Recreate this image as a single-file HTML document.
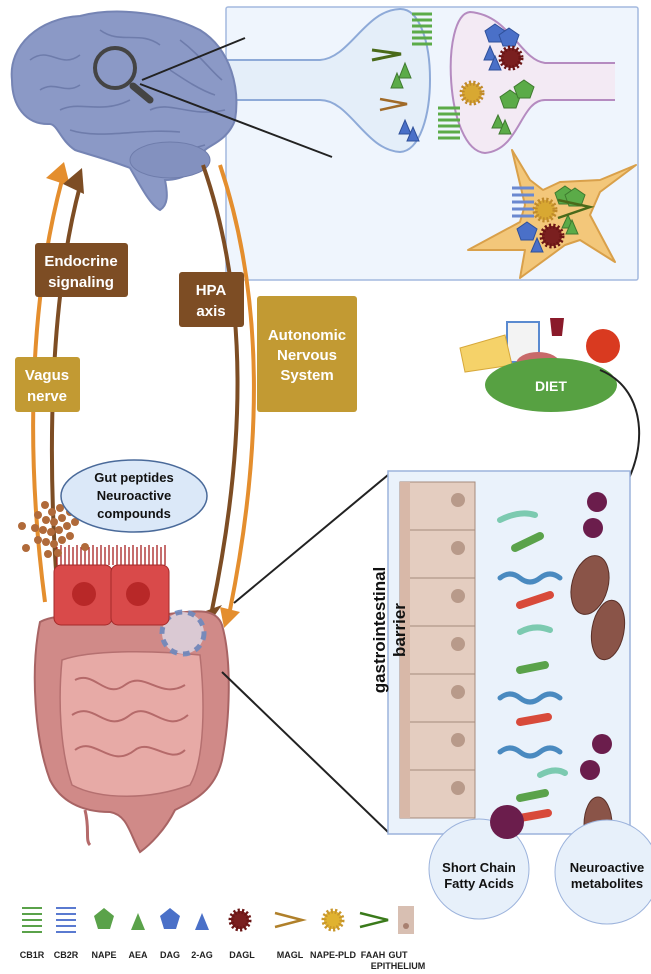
<!DOCTYPE html>
<html><head><meta charset="utf-8"><style>
html,body{margin:0;padding:0;background:#fff;}
svg{display:block;font-family:"Liberation Sans",sans-serif;}
.lb{font-weight:bold;fill:#fff;font-size:15px;text-anchor:middle;}
.lg{font-weight:bold;fill:#222;font-size:9px;text-anchor:middle;}
</style></head><body>
<svg width="651" height="974" viewBox="0 0 651 974" xmlns="http://www.w3.org/2000/svg">
<!-- top right panel -->
<rect x="226" y="7" width="412" height="273" rx="2" fill="#eff5fd" stroke="#a4b9df" stroke-width="1.5"/>
<path d="M226,60 L320,60 C350,58 365,10 400,9 C440,8 440,150 400,152 C365,150 350,100 320,100 L226,100" fill="#e4eef9" stroke="#8eaad8" stroke-width="2"/>
<path d="M615,63 L545,63 C520,60 510,15 470,12 C440,15 445,150 485,153 C520,150 520,100 545,100 L615,100" fill="#f3eaf4" stroke="#b58bc0" stroke-width="2"/>
<!-- presynaptic -->
<path d="M372,50 L401,54 L372,60" fill="none" stroke="#4a6a1a" stroke-width="3"/>
<path d="M380,99 L407,104 L380,110" fill="none" stroke="#a06a28" stroke-width="2.5"/>
<g fill="#5bab48" stroke="#3f7a2f"><polygon points="405,63 411,78 399,78"/><polygon points="397,73 403,88 391,88"/><polygon points="498,115 504,128 492,128"/><polygon points="505,120 511,134 499,134"/></g>
<g fill="#4a70c8" stroke="#2f509a"><polygon points="405,120 411,134 399,134"/><polygon points="413,127 419,141 407,141"/><polygon points="490,46 496,60 484,60"/><polygon points="495,56 501,70 489,70"/></g>
<g stroke="#5bab48" stroke-width="3" fill="none"><path d="M412,14 h20 M412,20 h20 M412,26 h20 M412,32 h20 M412,38 h20 M412,44 h20"/><path d="M438,108 h22 M438,114 h22 M438,120 h22 M438,126 h22 M438,132 h22 M438,138 h22"/></g>
<g fill="#4a70c8" stroke="#2f509a"><polygon points="495,24 505,31 501,42 489,42 485,31"/><polygon points="509,28 519,35 515,46 503,46 499,35"/></g>
<g fill="#5bab48" stroke="#3f7a2f"><polygon points="510,90 520,97 516,108 504,108 500,97"/><polygon points="524,80 534,87 530,98 518,98 514,87"/></g>
<circle cx="511" cy="58" r="10" fill="#7a1f1f" stroke="#6a1515" stroke-width="5" stroke-dasharray="2 2"/>
<circle cx="472" cy="93" r="10" fill="#d8a832" stroke="#c08a2b" stroke-width="5" stroke-dasharray="2 2"/>
<!-- astrocyte -->
<path d="M468,250 L520,222 L525,205 L512,150 L530,180 L543,190 L560,182 L600,180 L636,165 L600,192 L590,215 L615,262 L580,240 L565,245 L520,278 L525,250Z" fill="#f3c77a" stroke="#d9a04a" stroke-width="2" stroke-linejoin="round"/>
<g stroke="#6a88d0" stroke-width="3" fill="none"><path d="M512,188 h22 M512,195 h22 M512,202 h22 M512,209 h22 M512,216 h22"/></g>
<g fill="#5bab48" stroke="#3f7a2f"><polygon points="565,186 575,193 571,204 559,204 555,193"/><polygon points="575,188 585,195 581,206 569,206 565,195"/><polygon points="568,215 574,228 562,228"/><polygon points="572,220 578,234 566,234"/></g>
<circle cx="545" cy="210" r="10" fill="#d8a832" stroke="#c08a2b" stroke-width="5" stroke-dasharray="2 2"/>
<circle cx="552" cy="236" r="10" fill="#7a1f1f" stroke="#6a1515" stroke-width="5" stroke-dasharray="2 2"/>
<path d="M558,200 L590,207 L558,218" fill="none" stroke="#4a6a1a" stroke-width="2.5"/>
<polygon points="527,222 537,229 533,240 521,240 517,229" fill="#4a70c8" stroke="#2f509a"/>
<polygon points="537,238 543,252 531,252" fill="#4a70c8" stroke="#2f509a"/>
<!-- brain -->
<path d="M12,80 C8,45 40,18 80,16 C110,8 160,10 200,30 C232,50 240,90 235,120 C228,140 210,145 205,150 C200,170 185,180 165,180 C168,195 168,205 160,210 C150,205 140,185 130,168 C110,160 90,155 75,150 C60,140 58,125 50,124 C25,125 12,105 12,80Z" fill="#8b99c6" stroke="#7584b4" stroke-width="2"/>
<path d="M30,60 C50,45 60,70 80,55 M100,30 C120,45 140,30 160,45 M180,40 C200,55 210,70 222,80 M60,110 C80,100 100,115 130,100 M150,110 C170,100 190,118 225,110 M70,130 C100,140 140,128 180,132 M140,150 C160,160 185,150 205,145 M40,90 C55,80 65,95 80,85 M170,70 C185,80 200,90 215,95" fill="none" stroke="#6e7cab" stroke-width="1.6"/>
<ellipse cx="170" cy="160" rx="40" ry="18" fill="#8391bf" stroke="#6e7cab"/>
<circle cx="115" cy="68" r="20" fill="none" stroke="#444" stroke-width="4"/>
<line x1="133" y1="86" x2="150" y2="100" stroke="#444" stroke-width="7" stroke-linecap="round"/>
<line x1="142" y1="80" x2="245" y2="38" stroke="#222" stroke-width="2"/>
<line x1="140" y1="84" x2="332" y2="157" stroke="#222" stroke-width="2"/>
<!-- arcs -->
<path d="M45,602 C25,450 30,300 62,180" fill="none" stroke="#e48e2e" stroke-width="4"/>
<polygon points="46,178 64,162 70,186" fill="#e48e2e"/>
<path d="M57,585 C45,420 55,280 80,186" fill="none" stroke="#7d4d24" stroke-width="4"/>
<polygon points="63,184 82,168 84,194" fill="#7d4d24"/>
<path d="M203,165 C250,300 245,450 212,610" fill="none" stroke="#7d4d24" stroke-width="4"/>
<polygon points="203,612 222,605 208,625" fill="#7d4d24"/>
<path d="M220,165 C265,300 262,450 230,610" fill="none" stroke="#e48e2e" stroke-width="4"/>
<polygon points="220,607 240,612 224,628" fill="#e48e2e"/>
<!-- label boxes -->
<rect x="35" y="243" width="93" height="54" rx="3" fill="#7d4d24"/>
<text class="lb" x="81" y="266">Endocrine</text><text class="lb" x="81" y="287">signaling</text>
<rect x="179" y="272" width="65" height="55" rx="3" fill="#7d4d24"/>
<text class="lb" x="211" y="295">HPA</text><text class="lb" x="211" y="316">axis</text>
<rect x="257" y="296" width="100" height="116" rx="3" fill="#c29a33"/>
<text class="lb" x="307" y="340">Autonomic</text><text class="lb" x="307" y="360">Nervous</text><text class="lb" x="307" y="380">System</text>
<rect x="15" y="357" width="65" height="55" rx="3" fill="#c29a33"/>
<text class="lb" x="47" y="380">Vagus</text><text class="lb" x="47" y="401">nerve</text>
<!-- intestine -->
<path d="M40,622 C60,610 120,618 160,615 C190,612 215,605 222,625 C232,660 230,720 222,760 C215,790 195,800 175,810 C165,830 150,845 140,852 C130,835 128,815 110,812 C80,812 60,800 50,780 C35,740 30,670 40,622Z" fill="#d08a88" stroke="#a86464" stroke-width="2"/>
<path d="M62,660 C90,650 150,650 200,655 C205,700 205,760 190,785 C150,800 100,800 72,785 C60,750 58,700 62,660Z" fill="#e7aaa6" stroke="#b57070" stroke-width="1.5"/>
<path d="M75,680 C95,670 105,700 125,685 C145,670 160,700 185,685 M72,715 C95,700 105,735 130,715 C150,700 165,735 188,715 M75,750 C95,735 110,770 135,750 C150,738 170,765 185,750" fill="none" stroke="#b56a6a" stroke-width="2"/>
<path d="M85,810 C90,830 85,840 90,845" fill="none" stroke="#b56a6a" stroke-width="3"/>
<circle cx="183" cy="633" r="21" fill="#dcd0dc" stroke="#6e8ac0" stroke-width="5" stroke-dasharray="7 6" opacity="0.9"/>
<!-- red cells -->
<path d="M57,565 v-18 M61,565 v-20 M65,565 v-18 M69,565 v-20 M73,565 v-18 M77,565 v-20 M81,565 v-18 M85,565 v-20 M89,565 v-18 M93,565 v-20 M97,565 v-18 M101,565 v-20 M105,565 v-18 M109,565 v-20 M113,565 v-18 M117,565 v-20 M121,565 v-18 M125,565 v-20 M129,565 v-18 M133,565 v-20 M137,565 v-18 M141,565 v-20 M145,565 v-18 M149,565 v-20 M153,565 v-18 M157,565 v-20 M161,565 v-18 M165,565 v-20" stroke="#a82020" stroke-width="1.3"/>
<rect x="54" y="565" width="58" height="60" rx="7" fill="#d94a4a" stroke="#a52a2a"/>
<rect x="111" y="565" width="58" height="60" rx="7" fill="#d94a4a" stroke="#a52a2a"/>
<circle cx="84" cy="594" r="12" fill="#b82828"/><circle cx="138" cy="594" r="12" fill="#b82828"/>
<!-- granules -->
<g fill="#b06a3a"><circle cx="45" cy="505" r="4"/><circle cx="52" cy="512" r="4"/><circle cx="60" cy="508" r="4"/><circle cx="38" cy="515" r="4"/><circle cx="46" cy="520" r="4"/><circle cx="54" cy="522" r="4"/><circle cx="62" cy="518" r="4"/><circle cx="70" cy="512" r="4"/><circle cx="35" cy="528" r="4"/><circle cx="43" cy="530" r="4"/><circle cx="51" cy="532" r="4"/><circle cx="59" cy="530" r="4"/><circle cx="67" cy="526" r="4"/><circle cx="75" cy="522" r="4"/><circle cx="38" cy="540" r="4"/><circle cx="46" cy="542" r="4"/><circle cx="54" cy="544" r="4"/><circle cx="62" cy="540" r="4"/><circle cx="70" cy="536" r="4"/><circle cx="22" cy="526" r="4"/><circle cx="48" cy="554" r="4"/><circle cx="58" cy="553" r="4"/><circle cx="26" cy="548" r="4"/><circle cx="66" cy="502" r="4"/><circle cx="85" cy="547" r="4"/></g>
<ellipse cx="134" cy="496" rx="73" ry="36" fill="#dbe8f8" stroke="#4a6a9a" stroke-width="1.5"/>
<text x="134" y="482" font-size="13" font-weight="bold" text-anchor="middle" fill="#111">Gut peptides</text>
<text x="134" y="500" font-size="13" font-weight="bold" text-anchor="middle" fill="#111">Neuroactive</text>
<text x="134" y="518" font-size="13" font-weight="bold" text-anchor="middle" fill="#111">compounds</text>
<!-- food & diet -->
<rect x="507" y="322" width="32" height="40" fill="#f3f3f3" stroke="#5a8ad0" stroke-width="2"/>
<path d="M460,348 L505,335 L512,365 L465,372Z" fill="#f5d269" stroke="#d7a83a"/>
<ellipse cx="538" cy="364" rx="22" ry="12" fill="#c86a6a"/>
<path d="M550,318 h14 l-2,18 h-10Z" fill="#8a1a2a"/>
<circle cx="603" cy="346" r="17" fill="#d93a20"/>
<ellipse cx="551" cy="385" rx="66" ry="27" fill="#57a142"/>
<text x="551" y="391" font-size="14" font-weight="bold" fill="#fff" text-anchor="middle">DIET</text>
<path d="M600,370 C650,390 650,460 612,505" fill="none" stroke="#222" stroke-width="2"/>
<polygon points="602,508 618,500 610,514" fill="#222"/>
<!-- connectors -->
<line x1="234" y1="603" x2="388" y2="475" stroke="#222" stroke-width="2"/>
<line x1="222" y1="672" x2="388" y2="832" stroke="#222" stroke-width="2"/>
<!-- bottom panel -->
<rect x="388" y="471" width="242" height="363" fill="#eaf2fb" stroke="#9cb3dc" stroke-width="1.5"/>
<g fill="#e4cdc0" stroke="#a58a7c"><rect x="400" y="482" width="75" height="48"/><rect x="400" y="530" width="75" height="48"/><rect x="400" y="578" width="75" height="48"/><rect x="400" y="626" width="75" height="48"/><rect x="400" y="674" width="75" height="48"/><rect x="400" y="722" width="75" height="48"/><rect x="400" y="770" width="75" height="48"/></g>
<g fill="#b89a8a"><circle cx="458" cy="500" r="7"/><circle cx="458" cy="548" r="7"/><circle cx="458" cy="596" r="7"/><circle cx="458" cy="644" r="7"/><circle cx="458" cy="692" r="7"/><circle cx="458" cy="740" r="7"/><circle cx="458" cy="788" r="7"/></g>
<rect x="400" y="482" width="10" height="336" fill="#d8b8a8"/>
<text transform="translate(385,630) rotate(-90)" font-size="17" font-weight="bold" text-anchor="middle" fill="#111">gastrointestinal</text>
<text transform="translate(405,630) rotate(-90)" font-size="17" font-weight="bold" text-anchor="middle" fill="#111">barrier</text>
<g stroke-linecap="round" fill="none">
<path d="M500,520 q20,-10 35,-5" stroke="#7ccab0" stroke-width="6"/><path d="M515,548 l25,-12" stroke="#5aa24a" stroke-width="8"/>
<path d="M500,578 q10,-8 20,0 q10,8 20,0 q10,-8 20,0" stroke="#4a8ac0" stroke-width="5"/><path d="M520,605 l30,-10" stroke="#d84a3a" stroke-width="8"/>
<path d="M520,632 q15,-8 30,-2" stroke="#7ccab0" stroke-width="6"/><path d="M520,670 l25,-5" stroke="#5aa24a" stroke-width="8"/>
<path d="M500,698 q10,-8 20,0 q10,8 20,0 q10,-8 20,0" stroke="#4a8ac0" stroke-width="5"/><path d="M520,722 l28,-5" stroke="#d84a3a" stroke-width="8"/>
<path d="M500,752 q10,-8 20,0 q10,8 20,0 q10,-8 20,0" stroke="#4a8ac0" stroke-width="5"/><path d="M540,775 q15,-8 25,-2" stroke="#7ccab0" stroke-width="6"/>
<path d="M520,798 l25,-5" stroke="#5aa24a" stroke-width="8"/><path d="M520,818 l28,-5" stroke="#d84a3a" stroke-width="8"/>
</g>
<g fill="#6b1d4c"><circle cx="597" cy="502" r="10"/><circle cx="593" cy="528" r="10"/><circle cx="602" cy="744" r="10"/><circle cx="590" cy="770" r="10"/></g>
<g fill="#8a5448" stroke="#5a3028"><ellipse cx="590" cy="585" rx="18" ry="30" transform="rotate(15 590 585)"/><ellipse cx="608" cy="630" rx="16" ry="30" transform="rotate(10 608 630)"/><ellipse cx="598" cy="825" rx="14" ry="28"/></g>
<circle cx="479" cy="869" r="50" fill="#e7f0fa" stroke="#9cb3dc"/>
<circle cx="607" cy="872" r="52" fill="#e7f0fa" stroke="#9cb3dc"/>
<circle cx="507" cy="822" r="17" fill="#6b1d4c"/>
<text x="479" y="872" font-size="13" font-weight="bold" text-anchor="middle" fill="#111">Short Chain</text>
<text x="479" y="888" font-size="13" font-weight="bold" text-anchor="middle" fill="#111">Fatty Acids</text>
<text x="607" y="872" font-size="13" font-weight="bold" text-anchor="middle" fill="#111">Neuroactive</text>
<text x="607" y="888" font-size="13" font-weight="bold" text-anchor="middle" fill="#111">metabolites</text>
<!-- legend -->
<g stroke="#5aa24a" stroke-width="2" fill="none"><path d="M22,908 h20 M22,914 h20 M22,920 h20 M22,926 h20 M22,932 h20"/></g>
<g stroke="#5a7ad0" stroke-width="2" fill="none"><path d="M56,908 h20 M56,914 h20 M56,920 h20 M56,926 h20 M56,932 h20"/></g>
<polygon points="104,908 114,916 110,929 98,929 94,916" fill="#5aa24a"/>
<polygon points="138,913 145,930 131,930" fill="#5aa24a"/>
<polygon points="170,908 180,916 176,929 164,929 160,916" fill="#4a70c8"/>
<polygon points="202,913 209,930 195,930" fill="#4a70c8"/>
<circle cx="240" cy="920" r="9" fill="#7a1f1f" stroke="#6a1515" stroke-width="5" stroke-dasharray="2 2"/>
<path d="M275,913 L302,920 L275,927" fill="none" stroke="#b0802a" stroke-width="2.5"/>
<circle cx="333" cy="920" r="9" fill="#e0b230" stroke="#c8962b" stroke-width="5" stroke-dasharray="2 2"/>
<path d="M360,913 L388,920 L360,927" fill="none" stroke="#3a7a1a" stroke-width="2.5"/>
<rect x="398" y="906" width="16" height="28" fill="#d8bfb2"/><circle cx="406" cy="926" r="3" fill="#a88070"/>
<text class="lg" x="32" y="958">CB1R</text><text class="lg" x="66" y="958">CB2R</text><text class="lg" x="104" y="958">NAPE</text><text class="lg" x="138" y="958">AEA</text><text class="lg" x="170" y="958">DAG</text><text class="lg" x="202" y="958">2-AG</text><text class="lg" x="242" y="958">DAGL</text><text class="lg" x="290" y="958">MAGL</text><text class="lg" x="333" y="958">NAPE-PLD</text><text class="lg" x="373" y="958">FAAH</text>
<text class="lg" x="398" y="958" text-anchor="start">GUT</text><text class="lg" x="398" y="969" text-anchor="start" font-size="8">EPITHELIUM</text>
</svg>
</body></html>
